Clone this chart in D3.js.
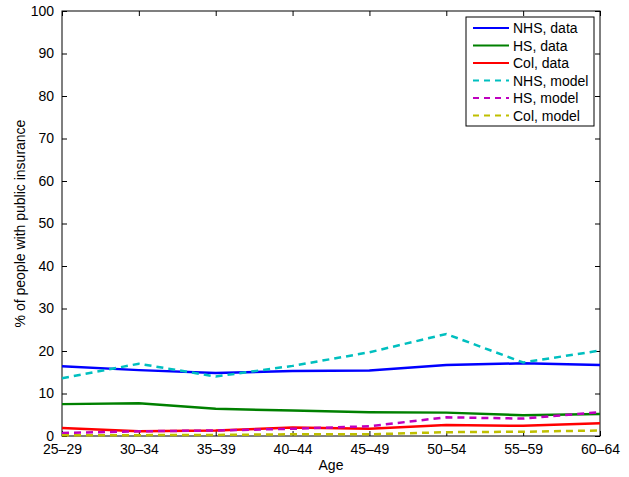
<!DOCTYPE html>
<meta charset="utf-8">
<script src="https://d3js.org/d3.v7.min.js"></script>
<style>
  body { margin: 0; background: #fff; }
  svg text { font-family: "Liberation Sans", Arial, sans-serif; font-size: 14px; fill: #000; }
</style>
<div id="dataVis"></div>
<script>
// age groups on the x axis
var ages = ["25\u201329", "30\u201334", "35\u201339", "40\u201344", "45\u201349", "50\u201354", "55\u201359", "60\u201364"];
var yTicks = [0, 10, 20, 30, 40, 50, 60, 70, 80, 90, 100];

// % with public insurance
var nhsData  = [16.4, 15.5, 14.8, 15.3, 15.4, 16.7, 17.1, 16.7];
var hsData   = [7.5, 7.7, 6.4, 6.0, 5.6, 5.5, 4.9, 5.2];
var colData  = [1.9, 1.1, 1.3, 2.0, 1.7, 2.6, 2.4, 3.0];
var nhsModel = [13.6, 17.0, 14.0, 16.5, 19.7, 24.0, 17.3, 20.1];
var hsModel  = [0.7, 1.1, 1.3, 1.7, 2.3, 4.4, 4.1, 5.6];
var colModel = [0.15, 0.2, 0.25, 0.4, 0.4, 0.9, 1.0, 1.3];

var series = [
  {name: "NHS, data",  values: nhsData,  color: "#0000ff", dash: null},
  {name: "HS, data",   values: hsData,   color: "#008000", dash: null},
  {name: "Col, data",  values: colData,  color: "#ff0000", dash: null},
  {name: "NHS, model", values: nhsModel, color: "#00bfbf", dash: "7,5"},
  {name: "HS, model",  values: hsModel,  color: "#bf00bf", dash: "7,5"},
  {name: "Col, model", values: colModel, color: "#bfbf00", dash: "7,5"}
];

var W = 629, H = 477;
var mLeft = 62, mRight = 600, mTop = 11, mBottom = 436;

var svg = d3.select("#dataVis").append("svg")
  .attr("width", W).attr("height", H);

var x = d3.scalePoint().domain(ages).range([mLeft, mRight]);
var y = d3.scaleLinear().domain([0, 100]).range([mBottom, mTop]);

// box
svg.append("rect")
  .attr("x", mLeft).attr("y", mTop)
  .attr("width", mRight - mLeft).attr("height", mBottom - mTop)
  .attr("fill", "none").attr("stroke", "#000").attr("stroke-width", 1);

// axes, ticks pointing inward like matlab
function styleAxis(g) {
  g.select(".domain").remove();
  g.selectAll("line").attr("stroke", "#000");
  g.selectAll("text").style("font-family", "Liberation Sans, Arial, sans-serif").style("font-size", "14px").attr("fill", "#000");
}
svg.append("g").attr("transform", "translate(0," + mBottom + ")")
  .call(d3.axisBottom(x).tickSizeInner(-5).tickPadding(8))
  .call(styleAxis);
svg.append("g").attr("transform", "translate(0," + mTop + ")")
  .call(d3.axisTop(x).tickSizeInner(-5).tickFormat(""))
  .call(styleAxis);
svg.append("g").attr("transform", "translate(" + mLeft + ",0)")
  .call(d3.axisLeft(y).tickValues(yTicks).tickSizeInner(-5).tickPadding(8))
  .call(styleAxis);
svg.append("g").attr("transform", "translate(" + mRight + ",0)")
  .call(d3.axisRight(y).tickValues(yTicks).tickSizeInner(-5).tickFormat(""))
  .call(styleAxis);

// lines
var line = d3.line()
  .x(function(d, i) { return x(ages[i]); })
  .y(function(d) { return y(d); });

svg.append("g").selectAll("path")
  .data(series)
  .enter().append("path")
    .attr("d", function(d) { return line(d.values); })
    .attr("fill", "none")
    .attr("stroke", function(d) { return d.color; })
    .attr("stroke-width", 2.5)
    .attr("stroke-dasharray", function(d) { return d.dash; });

// axis labels
svg.append("text")
  .attr("x", (mLeft + mRight) / 2).attr("y", 470)
  .attr("text-anchor", "middle").text("Age");
svg.append("text")
  .attr("transform", "translate(25," + ((mTop + mBottom) / 2) + ") rotate(-90)")
  .attr("text-anchor", "middle").text("% of people with public insurance");

// legend
var lg = svg.append("g");
lg.append("rect")
  .attr("x", 466).attr("y", 17).attr("width", 128).attr("height", 109)
  .attr("fill", "#fff").attr("stroke", "#000").attr("stroke-width", 1);
var rows = lg.selectAll("g.row").data(series).enter().append("g")
  .attr("transform", function(d, i) { return "translate(0," + (28 + i * 17.5) + ")"; });
rows.append("line")
  .attr("x1", 473).attr("x2", 509).attr("y1", 0).attr("y2", 0)
  .attr("stroke", function(d) { return d.color; })
  .attr("stroke-width", 2)
  .attr("stroke-dasharray", function(d) { return d.dash ? "6,5" : null; });
rows.append("text")
  .attr("x", 513).attr("y", 5)
  .text(function(d) { return d.name; });
</script>
